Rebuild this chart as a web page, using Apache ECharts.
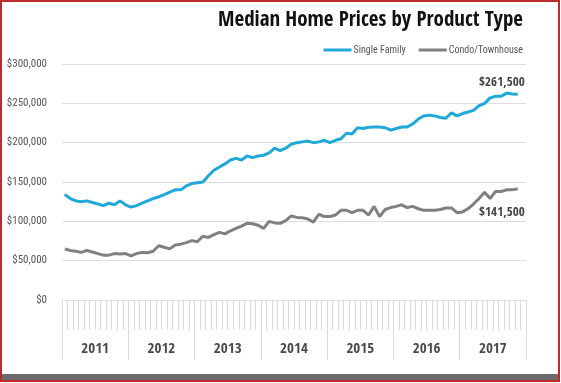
<!DOCTYPE html>
<html><head><meta charset="utf-8">
<script src="https://cdn.jsdelivr.net/npm/echarts@6/dist/echarts.min.js"></script>
<style>html,body{margin:0;padding:0;background:#fff;}#c{width:561px;height:383px;}</style>
</head><body><div id="c"></div>
<script>
const years = ['2011','2012','2013','2014','2015','2016','2017'];
const monthNames = ['Jan','Feb','Mar','Apr','May','Jun','Jul','Aug','Sep','Oct','Nov','Dec'];
const yTicks = [0, 50000, 100000, 150000, 200000, 250000, 300000];
const singleFamily = [134000,129000,126000,125000,126000,124000,122000,120000,123000,121000,126000,121000,
  118000,120000,123000,126000,129000,131000,134000,137000,140000,140000,145000,148000,
  149000,150000,158000,165000,169000,173000,178000,180000,178000,183000,181000,183000,
  184000,187000,193000,190000,193000,198000,200000,201000,202000,200000,201000,203000,
  200000,203000,205000,212000,211000,219000,218000,219500,220000,220000,219000,216000,
  218000,220000,220000,224000,230000,234000,235000,234000,232000,231000,238000,234000,
  237000,239000,241000,247000,250000,257000,259000,259000,263000,262000,261500];
const condo = [65000,63000,62000,60500,63000,61000,59000,57000,57000,59000,58500,59000,
  56000,59000,60500,60000,62000,69000,67000,65000,70000,71000,73000,75500,
  74000,81000,79500,83000,86000,84000,88000,91000,94000,97500,97000,95000,
  91000,100000,98000,97500,101000,107000,105000,104500,103000,99000,109000,106000,
  106000,108000,114000,114000,111000,114000,114000,108000,119000,106000,115000,117500,
  119000,121000,117500,119000,116000,114000,114000,114000,115000,117000,117000,111000,
  112000,116000,122000,129000,137000,129000,138000,138000,140000,140000,141500];
const months = [];
years.forEach(y => monthNames.forEach(m => months.push(m + ' ' + y)));

const FONT = '"Open Sans Condensed", "Roboto Condensed", "DejaVu Sans Condensed", sans-serif';
const FONT_REG = '"Roboto Condensed", "DejaVu Sans Condensed", sans-serif';
function fmt(v){ return '$' + v.toLocaleString('en-US'); }
const endLabelStyle = {fontFamily: FONT, fontWeight:'bold', fontSize:13, color:'#444'};

const chart = echarts.init(document.getElementById('c'), null, {renderer:'canvas'});
chart.setOption({
  backgroundColor:'#fff',
  animation:false,
  title:{text:'Median Home Prices by Product Type', right:33, top:5,
    textStyle:{fontFamily:FONT, fontWeight:'bold', fontSize:21, color:'#111'}},
  legend:{right:33, top:40, itemWidth:28, itemHeight:3, itemGap:13, icon:'rect',
    textStyle:{fontFamily:FONT_REG, fontSize:10, color:'#555', padding:[0,0,0,-3]},
    data:['Single Family','Condo/Townhouse']},
  grid:{left:62, right:35, top:64, bottom:83},
  xAxis:[
    {type:'category', data:months, position:'bottom', boundaryGap:true,
     axisLine:{show:false}, axisLabel:{show:false},
     axisTick:{show:true, interval:0, length:30, lineStyle:{color:'#dadada', width:1}}},
    {type:'category', data:years, position:'bottom', boundaryGap:true,
     axisLine:{show:false},
     axisTick:{show:true, length:60, lineStyle:{color:'#dadada', width:1}},
     axisLabel:{margin:42, fontFamily:FONT, fontWeight:'bold', fontSize:15, color:'#4a4a4a'}}
  ],
  yAxis:{type:'value', min:0, max:300000, interval:50000,
    axisLine:{show:false}, axisTick:{show:false},
    splitLine:{lineStyle:{color:'#dedede', width:1}},
    axisLabel:{margin:15, formatter:v => fmt(v), fontFamily:FONT_REG, fontSize:11, color:'#555'}},
  series:[
    {name:'Single Family', type:'line', xAxisIndex:0, data:singleFamily,
     symbol:'none', lineStyle:{color:'#1fa8d8', width:3}, itemStyle:{color:'#1fa8d8'},
     endLabel:Object.assign({show:true, formatter:p => fmt(p.value), align:'right', verticalAlign:'middle',
       distance:7, offset:[0,-12]}, endLabelStyle)},
    {name:'Condo/Townhouse', type:'line', xAxisIndex:0, data:condo,
     symbol:'none', lineStyle:{color:'#808080', width:3}, itemStyle:{color:'#808080'},
     endLabel:Object.assign({show:true, formatter:p => fmt(p.value), align:'right', verticalAlign:'middle',
       distance:7, offset:[0,24]}, endLabelStyle)}
  ],
  graphic:[
    {type:'rect', shape:{x:1, y:1, width:558, height:380}, style:{fill:'none', stroke:'#c0282d', lineWidth:2}, z:100},
    {type:'rect', shape:{x:2, y:374, width:556, height:6}, style:{fill:'#6b6b6b'}, z:99}
  ]
});
</script></body></html>
